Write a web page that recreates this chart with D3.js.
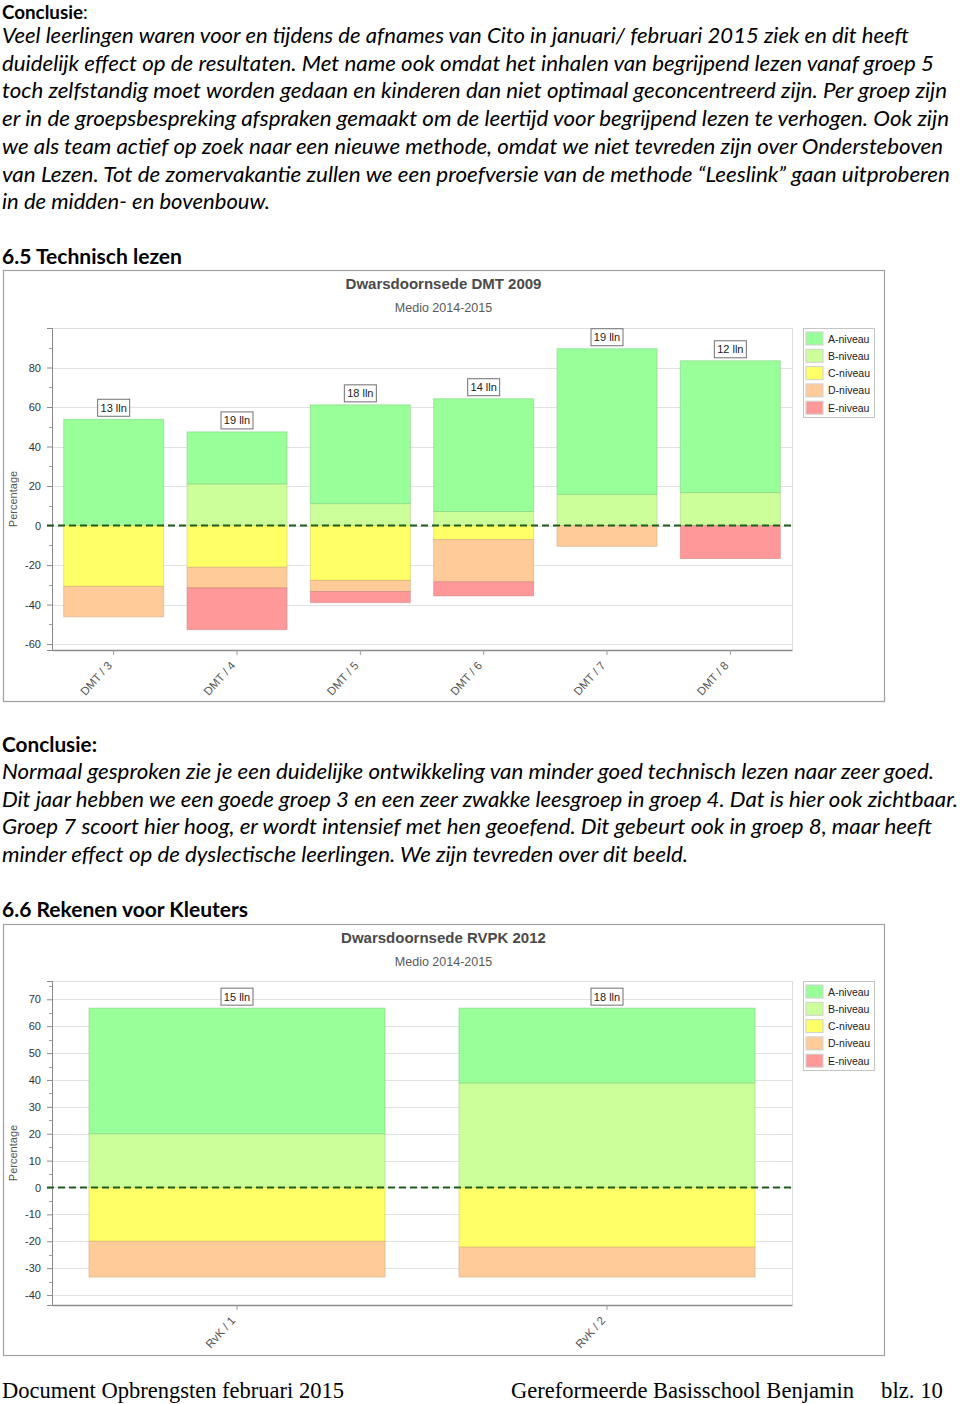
<!DOCTYPE html>
<html><head><meta charset="utf-8">
<script src="https://cdn.jsdelivr.net/npm/d3@7"></script>
<style>body{margin:0;background:#fff}svg{display:block}</style>
</head><body>
<script>
// ---------- DATA ----------
const levels = ["A-niveau","B-niveau","C-niveau","D-niveau","E-niveau"];
const levelColors = ["#99ff99","#ccff99","#ffff66","#ffcc99","#ff9999"];

const dmtCategories = ["DMT / 3","DMT / 4","DMT / 5","DMT / 6","DMT / 7","DMT / 8"];
const dmtCounts = [13,19,18,14,19,12];
const dmtA = [53.8,26.3,50.0,57.1,73.7,66.7];
const dmtB = [0,21.1,11.1,7.1,15.8,16.7];
const dmtC = [30.8,21.1,27.8,7.1,0,0];
const dmtD = [15.4,10.5,5.6,21.4,10.5,0];
const dmtE = [0,21.1,5.6,7.1,0,16.7];
const dmtTicks = [-60,-40,-20,0,20,40,60,80];

const rvkCategories = ["RvK / 1","RvK / 2"];
const rvkCounts = [15,18];
const rvkA = [46.7,27.8];
const rvkB = [20.0,38.9];
const rvkC = [20.0,22.2];
const rvkD = [13.3,11.1];
const rvkE = [0,0];
const rvkTicks = [-40,-30,-20,-10,0,10,20,30,40,50,60,70];

const para1 = [
 "Veel leerlingen waren voor en tijdens de afnames van Cito in januari/ februari 2015 ziek en dit heeft",
 "duidelijk effect op de resultaten. Met name ook omdat het inhalen van begrijpend lezen vanaf groep 5",
 "toch zelfstandig moet worden gedaan en kinderen dan niet optimaal geconcentreerd zijn. Per groep zijn",
 "er in de groepsbespreking afspraken gemaakt om de leertijd voor begrijpend lezen te verhogen. Ook zijn",
 "we als team actief op zoek naar een nieuwe methode, omdat we niet tevreden zijn over Ondersteboven",
 "van Lezen. Tot de zomervakantie zullen we een proefversie van de methode \u201cLeeslink\u201d gaan uitproberen",
 "in de midden- en bovenbouw."
];
const para1W = [907,932,945,947,941,948,268];
const para2 = [
 "Normaal gesproken zie je een duidelijke ontwikkeling van minder goed technisch lezen naar zeer goed.",
 "Dit jaar hebben we een goede groep 3 en een zeer zwakke leesgroep in groep 4. Dat is hier ook zichtbaar.",
 "Groep 7 scoort hier hoog, er wordt intensief met hen geoefend. Dit gebeurt ook in groep 8, maar heeft",
 "minder effect op de dyslectische leerlingen. We zijn tevreden over dit beeld."
];
const para2W = [932,956,930,686];

// ---------- DRAW ----------
const svg = d3.select("body").append("svg").attr("width",960).attr("height",1404);
const bodyFont = "Lato, 'Open Sans', sans-serif";
const chartFont = "'Liberation Sans', Arial, sans-serif";

function textLine(x,y,str,w,opts){
  const t = svg.append("text").attr("x",x).attr("y",y).text(str)
    .attr("font-family",opts.family||bodyFont).attr("font-size",opts.size||21)
    .attr("fill","#000");
  if(opts.italic) t.attr("font-style","italic");
  if(opts.bold) t.attr("font-weight","bold");
  if(w){ t.attr("textLength",w).attr("lengthAdjust","spacingAndGlyphs"); }
  return t;
}

// Headings & paragraphs
const c1 = svg.append("text").attr("x",2).attr("y",19).attr("font-family",bodyFont).attr("font-size",18.8);
c1.append("tspan").attr("font-weight","bold").text("Conclusie");
c1.append("tspan").text(":");
para1.forEach((s,i)=>textLine(2,43+i*27.7,s,para1W[i],{italic:true}));
textLine(2,264,"6.5 Technisch lezen",180,{bold:true,size:20});
textLine(2,752,"Conclusie:",95,{bold:true,size:20});
para2.forEach((s,i)=>textLine(2,779+i*27.7,s,para2W[i],{italic:true}));
textLine(2,917,"6.6 Rekenen voor Kleuters",246,{bold:true,size:20});

// Footer
const serif = "'Liberation Serif','Times New Roman',serif";
textLine(2,1398,"Document Opbrengsten februari 2015",342,{family:serif,size:23});
textLine(511,1398,"Gereformeerde Basisschool Benjamin",343,{family:serif,size:23});
textLine(881,1398,"blz. 10",62,{family:serif,size:23});

function drawChart(cfg){
  const g = svg.append("g");
  // outer frame
  g.append("rect").attr("x",cfg.frame[0]+0.5).attr("y",cfg.frame[1]+0.5)
    .attr("width",cfg.frame[2]).attr("height",cfg.frame[3])
    .attr("fill","#fff").attr("stroke","#a0a0a0").attr("stroke-width",1.2);
  // titles
  g.append("text").attr("x",443.5).attr("y",cfg.frame[1]+19).attr("text-anchor","middle")
    .attr("font-family",chartFont).attr("font-weight","bold").attr("font-size",15)
    .attr("fill","#4a4a4a").text(cfg.title);
  g.append("text").attr("x",443.5).attr("y",cfg.frame[1]+42).attr("text-anchor","middle")
    .attr("font-family",chartFont).attr("font-size",12.5)
    .attr("fill","#5a5a5a").text("Medio 2014-2015");

  const L=52,R=792,T=cfg.top,B=cfg.bottom;
  const x = d3.scaleBand().domain(cfg.cats).range([L,R]).paddingInner(cfg.pad).paddingOuter(cfg.pad/2);
  const y = d3.scaleLinear().domain(cfg.domain).range([B,T]);

  // plot border (light)
  g.append("line").attr("x1",L).attr("x2",R).attr("y1",T+0.5).attr("y2",T+0.5).attr("stroke","#dcdcdc");
  g.append("line").attr("x1",R+0.5).attr("x2",R+0.5).attr("y1",T).attr("y2",B).attr("stroke","#dcdcdc");
  // grid
  g.selectAll(".grid").data(cfg.ticks).join("line")
    .attr("x1",L).attr("x2",R).attr("y1",d=>Math.round(y(d))+0.5).attr("y2",d=>Math.round(y(d))+0.5)
    .attr("stroke","#e2e2e2");

  // y axis
  const yAxis = d3.axisLeft(y).tickValues(cfg.ticks).tickSize(5).tickPadding(6).tickFormat(d=>String(d));
  const ya = g.append("g").attr("transform",`translate(${L},0)`).call(yAxis);
  ya.select(".domain").attr("stroke","#8a8a8a");
  ya.selectAll(".tick line").attr("stroke","#8a8a8a");
  ya.selectAll("text").attr("font-family",chartFont).attr("font-size",11).attr("fill","#333");
  // minor ticks
  g.selectAll(".minor").data(cfg.minor).join("line")
    .attr("x1",L-3).attr("x2",L).attr("y1",d=>Math.round(y(d))+0.5).attr("y2",d=>Math.round(y(d))+0.5)
    .attr("stroke","#9a9a9a");
  g.append("text").attr("transform",`translate(17,${(T+B)/2+10}) rotate(-90)`)
    .attr("text-anchor","middle").attr("font-family",chartFont).attr("font-size",11)
    .attr("fill","#555").text("Percentage");

  // x axis
  const xAxis = d3.axisBottom(x).tickSize(5).tickSizeOuter(0);
  const xa = g.append("g").attr("transform",`translate(0,${B})`).call(xAxis);
  xa.select(".domain").attr("stroke","#8a8a8a").attr("stroke-width",1.3);
  xa.selectAll(".tick line").attr("stroke","#9a9a9a");
  xa.selectAll("text").attr("font-family",chartFont).attr("font-size",11.5).attr("fill","#555")
    .attr("text-anchor","end").attr("dy",0).attr("y",0)
    .attr("transform","translate(-1,16) rotate(-48)");

  // stacked bars
  const series = cfg.cats.map((c,i)=>{
    const segs=[];
    const b=cfg.vals[1][i], a=cfg.vals[0][i];
    segs.push({lvl:1,y0:0,y1:b});
    segs.push({lvl:0,y0:b,y1:b+a});
    let acc=0;
    [2,3,4].forEach(k=>{ const v=cfg.vals[k][i]; segs.push({lvl:k,y0:-acc,y1:-acc-v}); acc+=v; });
    return {cat:c,segs:segs.filter(s=>s.y0!==s.y1),top:a+b,n:cfg.counts[i]};
  });
  const bars = g.selectAll(".bar").data(series).join("g");
  bars.selectAll("rect").data(d=>d.segs.map(s=>Object.assign({cat:d.cat},s))).join("rect")
    .attr("x",d=>x(d.cat)).attr("width",x.bandwidth())
    .attr("y",d=>y(Math.max(d.y0,d.y1))).attr("height",d=>Math.abs(y(d.y0)-y(d.y1)))
    .attr("fill",d=>levelColors[d.lvl])
    .attr("stroke",d=>d3.color(levelColors[d.lvl]).darker(0.6)).attr("stroke-width",1).attr("stroke-opacity",0.55);

  // zero dashed line
  g.append("line").attr("x1",L-5).attr("x2",R).attr("y1",y(0)).attr("y2",y(0))
    .attr("stroke","#1c5c1c").attr("stroke-width",2).attr("stroke-dasharray","7,4");

  // count labels
  const lab = g.selectAll(".lab").data(series).join("g")
    .attr("transform",d=>`translate(${x(d.cat)+x.bandwidth()/2},${y(d.top)-2})`);
  lab.append("rect").attr("x",-16).attr("y",-18).attr("width",32).attr("height",17)
    .attr("fill","#fff").attr("stroke","#707070");
  lab.append("text").attr("x",0).attr("y",-5.5).attr("text-anchor","middle")
    .attr("font-family",chartFont).attr("font-size",11).attr("fill","#222")
    .text(d=>d.n+" lln");

  // legend
  const lg = g.append("g").attr("transform",`translate(803,${T})`);
  lg.append("rect").attr("x",0.5).attr("y",0.5).attr("width",71).attr("height",89)
    .attr("fill","#fff").attr("stroke","#c4c4c4");
  const li = lg.selectAll(".li").data(levels).join("g")
    .attr("transform",(d,i)=>`translate(3,${4+i*17.3})`);
  li.append("rect").attr("width",17).attr("height",13).attr("fill",(d,i)=>levelColors[i])
    .attr("stroke","#d0d0d0");
  li.append("text").attr("x",22).attr("y",10.5).attr("font-family",chartFont).attr("font-size",10.5)
    .attr("fill","#222").text(d=>d);
}

drawChart({frame:[3,270,881,431],title:"Dwarsdoornsede DMT 2009",top:328,bottom:650,
  domain:[-63,100],ticks:dmtTicks,minor:[-50,-30,-10,10,30,50,70,90],
  cats:dmtCategories,counts:dmtCounts,vals:[dmtA,dmtB,dmtC,dmtD,dmtE],pad:0.19});
drawChart({frame:[3,924,881,431],title:"Dwarsdoornsede RVPK 2012",top:981,bottom:1305,
  domain:[-43.7,76.8],ticks:rvkTicks,minor:[-35,-25,-15,-5,5,15,25,35,45,55,65,75],
  cats:rvkCategories,counts:rvkCounts,vals:[rvkA,rvkB,rvkC,rvkD,rvkE],pad:0.2});
</script>
</body></html>
